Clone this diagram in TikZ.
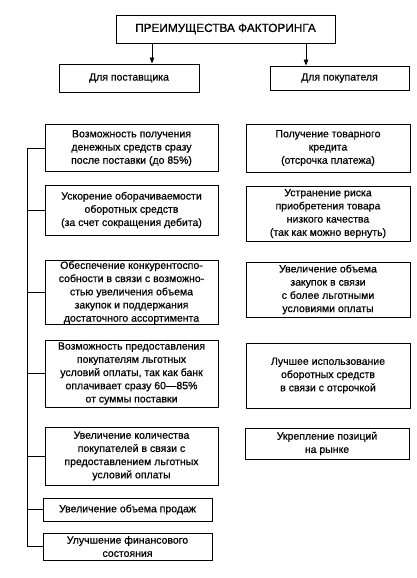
\documentclass[tikz,border=0pt]{standalone}
\usepackage{fontspec}
\setmainfont{Liberation Sans}[FakeBold=0.6]
\usetikzlibrary{arrows.meta}
\tikzset{
  box/.style={draw, line width=0.9pt, align=center, inner sep=1pt,
    font=\fontsize{10.5}{13.2}\selectfont},
  arr/.style={line width=0.9pt, -{Triangle[length=6pt,width=4.5pt]}},
  conn/.style={line width=0.9pt}
}
\begin{document}
\begin{tikzpicture}[x=1pt,y=-1pt]
\useasboundingbox (0,0) rectangle (416,578);
% header
\node[box, minimum width=219pt, minimum height=28pt, font=\fontsize{11.8}{13}\selectfont] (title) at (225.5,29) {ПРЕИМУЩЕСТВА ФАКТОРИНГА};
\node[box, minimum width=140pt, minimum height=28pt, font=\fontsize{10.5}{12}\selectfont] (sup) at (129,78) {Для поставщика};
\node[box, minimum width=139pt, minimum height=24pt, font=\fontsize{10.5}{12}\selectfont] (buy) at (339.5,78) {Для покупателя};
\coordinate (a1) at (152,0);
\coordinate (a2) at (306,0);
\draw[arr] (title.south -| a1) -- (sup.north -| a1);
\draw[arr] (title.south -| a2) -- (buy.north -| a2);
% left column
\node[box, minimum width=173pt, minimum height=47pt] (L1) at (131.5,148) {Возможность получения\\денежных средств сразу\\после поставки (до 85\%)};
\node[box, minimum width=173pt, minimum height=50pt] (L2) at (131.5,210) {Ускорение оборачиваемости\\оборотных средств\\(за счет сокращения дебита)};
\node[box, minimum width=173pt, minimum height=61pt] (L3) at (131.5,292.5) {Обеспечение конкурентоспо-\\собности в связи с возможно-\\стью увеличения объема\\закупок и поддержания\\достаточного ассортимента};
\node[box, minimum width=173pt, minimum height=67pt] (L4) at (131.5,373.5) {Возможность предоставления\\покупателям льготных\\условий оплаты, так как банк\\оплачивает сразу 60—85\%\\от суммы поставки};
\node[box, minimum width=173pt, minimum height=58pt] (L5) at (131.5,456) {Увеличение количества\\покупателей в связи с\\предоставлением льготных\\условий оплаты};
\node[box, minimum width=169pt, minimum height=23pt] (L6) at (127.5,509.5) {Увеличение объема продаж};
\node[box, minimum width=169pt, minimum height=27pt] (L7) at (127.5,546.5) {Улучшение финансового\\состояния};
\coordinate (bus) at (27,0);
\draw[conn] (L1.west -| bus) -- (L7.west -| bus);
\foreach \n in {L1,L2,L3,L4,L5,L6,L7} \draw[conn] (\n.west -| bus) -- (\n.west);
% right column
\node[box, minimum width=164pt, minimum height=48pt] (R1) at (328,148) {Получение товарного\\кредита\\(отсрочка платежа)};
\node[box, minimum width=164pt, minimum height=55pt] (R2) at (328,213.5) {Устранение риска\\приобретения товара\\низкого качества\\(так как можно вернуть)};
\node[box, minimum width=164pt, minimum height=55pt] (R3) at (328,289.5) {Увеличение объема\\закупок в связи\\с более льготными\\условиями оплаты};
\node[box, minimum width=164pt, minimum height=65pt] (R4) at (328,375.5) {Лучшее использование\\оборотных средств\\в связи с отсрочкой};
\node[box, minimum width=164pt, minimum height=31pt] (R5) at (327,443.5) {Укрепление позиций\\на рынке};
\end{tikzpicture}
\end{document}
